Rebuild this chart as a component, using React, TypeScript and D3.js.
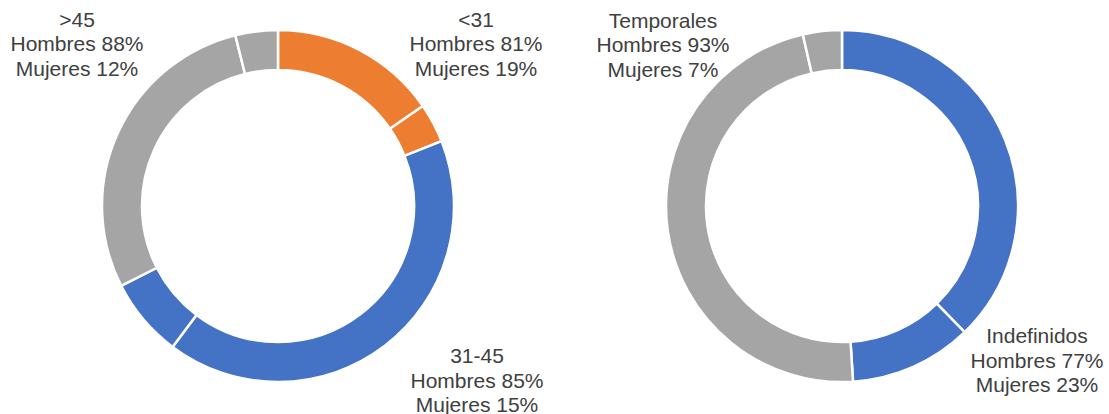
import React from 'react';
import * as d3 from 'd3';

// share of each group in the total (%), and share of men inside the group (%)
const ageGroups = ['<31', '31-45', '>45'];
const ageShare = [19, 48.5, 32.5];
const ageHombres = [81, 85, 88];

const contractGroups = ['Indefinidos', 'Temporales'];
const contractShare = [49, 51];
const contractHombres = [77, 93];

const ageColors = ['#ED7D31', '#4472C4', '#A5A5A5'];
const contractColors = ['#4472C4', '#A5A5A5'];

type Slice = { group: number; value: number };

const buildSlices = (share: number[], hombres: number[]): Slice[] =>
  share.flatMap((s, i) => [
    { group: i, value: (s * hombres[i]) / 100 },
    { group: i, value: (s * (100 - hombres[i])) / 100 },
  ]);

const outerR = 176;
const innerR = 136;
const lineH = 24.5;

const Donut = ({ cx, cy, slices, colors }: { cx: number; cy: number; slices: Slice[]; colors: string[] }) => {
  const pie = d3.pie<Slice>().sort(null).value(d => d.value);
  const arc = d3.arc<d3.PieArcDatum<Slice>>().innerRadius(innerR).outerRadius(outerR);
  return (
    <g transform={`translate(${cx},${cy})`}>
      {pie(slices).map((d, i) => (
        <path key={i} d={arc(d) || ''} fill={colors[d.data.group]} stroke="#fff" strokeWidth={2.5} />
      ))}
    </g>
  );
};

const Label = ({ x, y, lines }: { x: number; y: number; lines: string[] }) => (
  <text x={x} y={y} textAnchor="middle" fill="#404040" fontSize={21}>
    {lines.map((l, i) => (
      <tspan key={i} x={x} y={y + i * lineH}>{l}</tspan>
    ))}
  </text>
);

const groupLines = (name: string, h: number) => [name, `Hombres ${h}%`, `Mujeres ${100 - h}%`];

export default function App() {
  const width = 1109;
  const height = 414;
  return (
    <svg
      width={width}
      height={height}
      style={{ position: 'absolute', left: 0, top: 0, fontFamily: '"Liberation Sans", Arial, sans-serif' }}
    >
      <rect width={width} height={height} fill="#fff" />
      <Donut cx={278} cy={206} slices={buildSlices(ageShare, ageHombres)} colors={ageColors} />
      <Donut cx={842} cy={206} slices={buildSlices(contractShare, contractHombres)} colors={contractColors} />

      <Label x={476} y={26.5} lines={groupLines(ageGroups[0], ageHombres[0])} />
      <Label x={477} y={363} lines={groupLines(ageGroups[1], ageHombres[1])} />
      <Label x={77} y={26.5} lines={groupLines(ageGroups[2], ageHombres[2])} />

      <Label x={1037} y={343} lines={groupLines(contractGroups[0], contractHombres[0])} />
      <Label x={663} y={27.5} lines={groupLines(contractGroups[1], contractHombres[1])} />
    </svg>
  );
}
